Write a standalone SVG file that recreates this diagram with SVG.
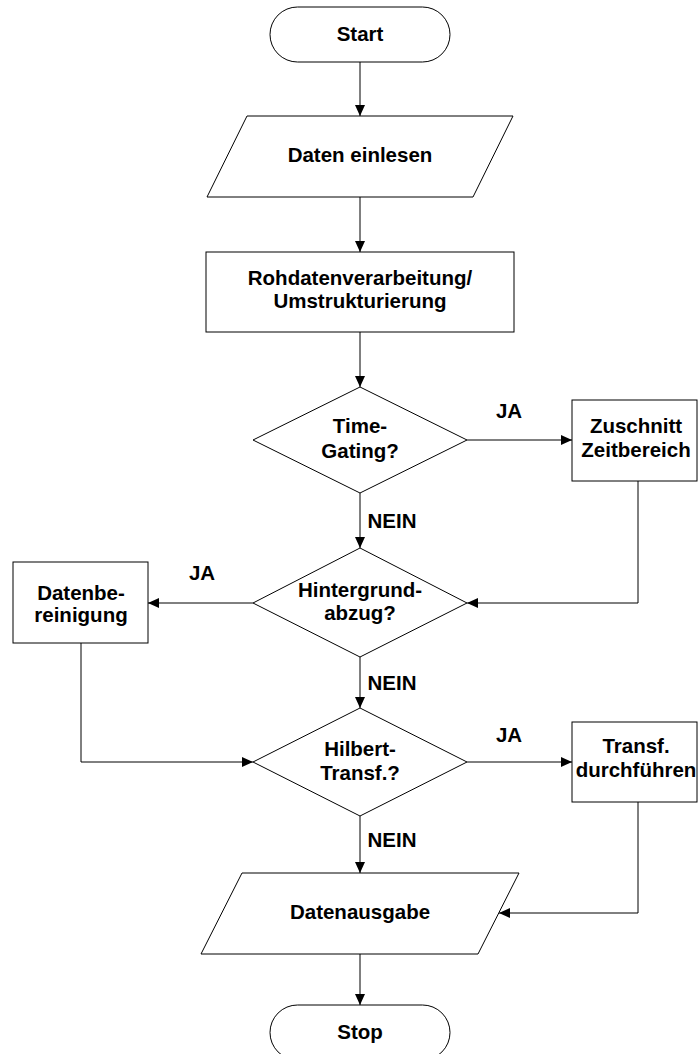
<svg xmlns="http://www.w3.org/2000/svg" width="699" height="1054" viewBox="0 0 699 1054">
<style>
.s{fill:#fff;stroke:#000;stroke-width:1}
.t{font-family:"Liberation Sans",Arial,sans-serif;font-weight:bold;font-size:20.5px;fill:#000;text-anchor:middle}
.c{fill:none;stroke:#000;stroke-width:1}
</style>
<defs>
<marker id="a" markerUnits="userSpaceOnUse" markerWidth="11" markerHeight="10" refX="11" refY="5" orient="auto">
<path d="M0,0 L11,5 L0,10 z" fill="#000"/>
</marker>
</defs>
<rect width="699" height="1054" fill="#fff"/>
<g id="connectors">
<path class="c" d="M360,62 V116" marker-end="url(#a)"/>
<path class="c" d="M360,197 V252" marker-end="url(#a)"/>
<path class="c" d="M360,332 V387" marker-end="url(#a)"/>
<path class="c" d="M467,440 H572" marker-end="url(#a)"/>
<path class="c" d="M360,493 V548" marker-end="url(#a)"/>
<path class="c" d="M638,481 V603 H467" marker-end="url(#a)"/>
<path class="c" d="M253,603 H148" marker-end="url(#a)"/>
<path class="c" d="M360,657 V708" marker-end="url(#a)"/>
<path class="c" d="M81,643 V762 H253" marker-end="url(#a)"/>
<path class="c" d="M467,762 H572" marker-end="url(#a)"/>
<path class="c" d="M360,816 V873" marker-end="url(#a)"/>
<path class="c" d="M638,802 V913 H499" marker-end="url(#a)"/>
<path class="c" d="M360,954 V1005" marker-end="url(#a)"/>
<text class="t" x="509" y="418">JA</text>
<text class="t" x="392" y="528">NEIN</text>
<text class="t" x="202" y="580">JA</text>
<text class="t" x="392" y="690">NEIN</text>
<text class="t" x="509" y="742">JA</text>
<text class="t" x="392" y="847">NEIN</text>
</g>
<g id="start">
<rect class="s" x="270" y="7" width="180" height="55" rx="27.5" ry="27.5"/>
<text class="t" x="360" y="41">Start</text>
</g>
<g id="daten-einlesen">
<path class="s" d="M247,116 H513 L473,197 H207 Z"/>
<text class="t" x="360" y="162">Daten einlesen</text>
</g>
<g id="rohdaten">
<rect class="s" x="206" y="252" width="308" height="80"/>
<text class="t" x="360" y="285">Rohdatenverarbeitung/</text>
<text class="t" x="360" y="308">Umstrukturierung</text>
</g>
<g id="time-gating">
<path class="s" d="M360,387 L467,440 L360,493 L253,440 Z"/>
<text class="t" x="360" y="433">Time-</text>
<text class="t" x="360" y="458">Gating?</text>
</g>
<g id="zuschnitt">
<rect class="s" x="572" y="400" width="125" height="81"/>
<text class="t" x="636" y="433">Zuschnitt</text>
<text class="t" x="636" y="457">Zeitbereich</text>
</g>
<g id="hintergrund">
<path class="s" d="M360,548 L467,603 L360,657 L253,603 Z"/>
<text class="t" x="360" y="597">Hintergrund-</text>
<text class="t" x="360" y="620">abzug?</text>
</g>
<g id="datenbereinigung">
<rect class="s" x="13" y="562" width="135" height="81"/>
<text class="t" x="81" y="600">Datenbe-</text>
<text class="t" x="81" y="622">reinigung</text>
</g>
<g id="hilbert">
<path class="s" d="M360,708 L467,762 L360,816 L253,762 Z"/>
<text class="t" x="360" y="756">Hilbert-</text>
<text class="t" x="360" y="780">Transf.?</text>
</g>
<g id="transf">
<rect class="s" x="572" y="722" width="125" height="80"/>
<text class="t" x="636" y="753">Transf.</text>
<text class="t" x="636" y="777">durchführen</text>
</g>
<g id="datenausgabe">
<path class="s" d="M242,873 H519 L478,954 H201 Z"/>
<text class="t" x="360" y="919">Datenausgabe</text>
</g>
<g id="stop">
<rect class="s" x="270" y="1005" width="180" height="55" rx="27.5" ry="27.5"/>
<text class="t" x="360" y="1039">Stop</text>
</g>
</svg>
